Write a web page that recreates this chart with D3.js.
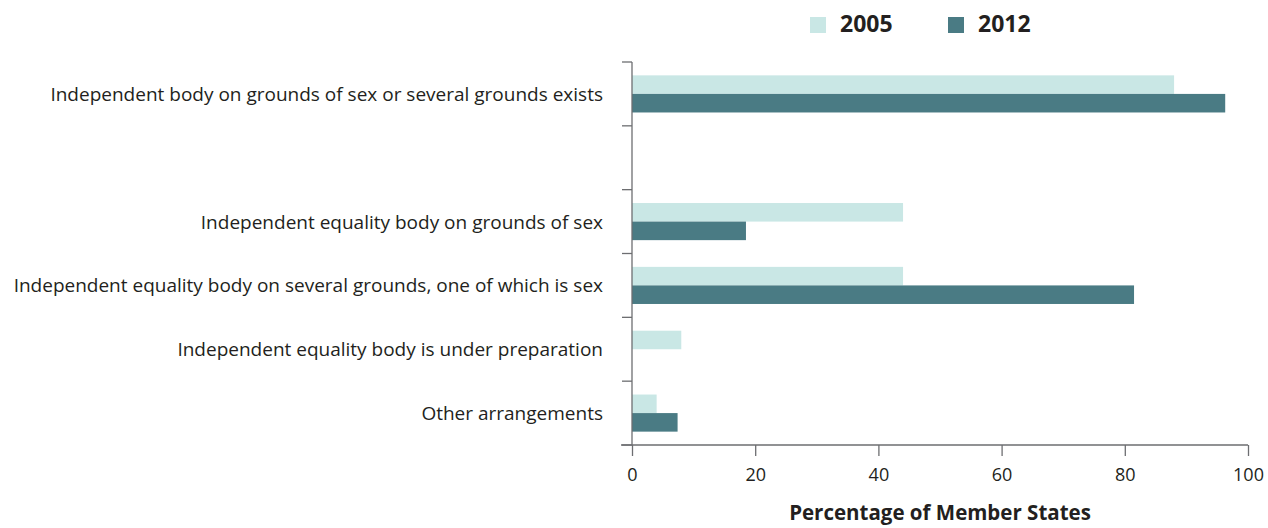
<!DOCTYPE html>
<html><head><meta charset="utf-8">
<script src="https://cdn.jsdelivr.net/npm/d3@7"></script>
<style>body{margin:0;background:#fff}svg{display:block}</style>
</head><body>
<svg id="c" width="1268" height="528"></svg>
<script>
const categories = [
  "Independent body on grounds of sex or several grounds exists",
  "",
  "Independent equality body on grounds of sex",
  "Independent equality body on several grounds, one of which is sex",
  "Independent equality body is under preparation",
  "Other arrangements"
];
const series = ["2005", "2012"];
const values2005 = [88, null, 44, 44, 8, 4];
const values2012 = [96.3, null, 18.5, 81.5, 0, 7.4];
const xTicks = [0, 20, 40, 60, 80, 100];
const colors = ["#c9e7e5", "#4a7b84"];
const xTitle = "Percentage of Member States";

(function () {
const svg = d3.select("#c");
const font = "'Open Sans', 'Noto Sans', sans-serif";
const textColor = "#231f20";
const pLeft = 632, pRight = 1248, pTop = 62, pBottom = 445;

const x = d3.scaleLinear().domain([0, 100]).range([pLeft, pRight]);
const y = d3.scaleBand().domain(d3.range(categories.length)).range([pTop, pBottom]).paddingInner(0).paddingOuter(0);
const inner = d3.scaleBand().domain(series).range([0, y.bandwidth()]).paddingInner(0).paddingOuter(0.72);

const allVals = [values2005, values2012];
series.forEach((s, si) => {
  svg.append("g").selectAll("rect")
    .data(categories.map((c, i) => ({i, v: allVals[si][i]})).filter(d => d.v != null && d.v > 0))
    .join("rect")
    .attr("x", x(0))
    .attr("y", d => y(d.i) + inner(s))
    .attr("width", d => x(d.v) - x(0))
    .attr("height", inner.bandwidth())
    .attr("fill", colors[si]);
});

const axisColor = "#6d6e71";
svg.append("line").attr("x1", pLeft).attr("x2", pLeft).attr("y1", pTop).attr("y2", pBottom)
  .attr("stroke", axisColor).attr("stroke-width", 1.3);
const bounds = d3.range(categories.length + 1).map(i => i < categories.length ? y(i) : pBottom);
svg.append("g").selectAll("line").data(bounds).join("line")
  .attr("x1", pLeft - 10).attr("x2", pLeft).attr("y1", d => d).attr("y2", d => d)
  .attr("stroke", axisColor).attr("stroke-width", 1.3);
svg.append("g").selectAll("text").data(categories).join("text")
  .attr("x", 603).attr("y", (d, i) => y(i) + y.bandwidth() / 2 + 7)
  .attr("text-anchor", "end").attr("font-family", font).attr("font-size", 19)
  .attr("fill", textColor).text(d => d);

svg.append("line").attr("x1", pLeft - 11).attr("x2", pRight).attr("y1", pBottom).attr("y2", pBottom)
  .attr("stroke", axisColor).attr("stroke-width", 1.3);
const xg = svg.append("g").attr("transform", `translate(0,${pBottom})`)
  .call(d3.axisBottom(x).tickValues(xTicks).tickSize(11).tickSizeOuter(0).tickFormat(d3.format("d")));
xg.select(".domain").remove();
xg.selectAll(".tick line").attr("stroke", axisColor).attr("stroke-width", 1.3);
xg.selectAll(".tick text").attr("font-family", font).attr("font-size", 18).attr("fill", textColor)
  .attr("y", 36).attr("dy", 0);

svg.append("text").attr("x", 940).attr("y", 520).attr("text-anchor", "middle")
  .attr("font-family", font).attr("font-weight", "bold").attr("font-size", 20.5)
  .attr("fill", textColor).text(xTitle);

const legendX = [810, 948];
series.forEach((s, si) => {
  svg.append("rect").attr("x", legendX[si]).attr("y", 17).attr("width", 16).attr("height", 16).attr("fill", colors[si]);
  svg.append("text").attr("x", legendX[si] + 30).attr("y", 32).attr("font-family", font)
    .attr("font-weight", "bold").attr("font-size", 23).attr("fill", textColor).text(s);
});
})();
</script>
</body></html>
